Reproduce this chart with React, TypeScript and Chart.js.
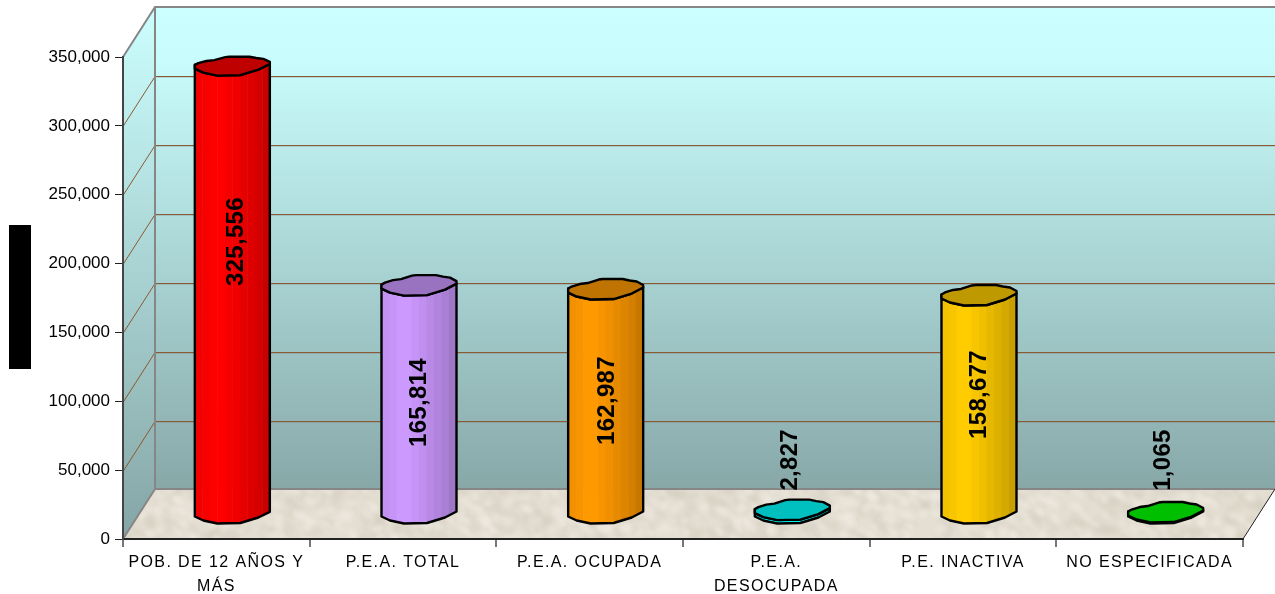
import React, { useEffect, useRef } from "react";
import { Chart, registerables, CategoryScale } from "chart.js";

const categories: (string | string[])[] = [
  ["POB. DE 12 AÑOS Y", "MÁS"],
  "P.E.A. TOTAL",
  "P.E.A. OCUPADA",
  ["P.E.A.", "DESOCUPADA"],
  "P.E. INACTIVA",
  "NO ESPECIFICADA",
];
const values = [325556, 165814, 162987, 2827, 158677, 1065];
const sideColors = ["#ff0000", "#cc99ff", "#ff9900", "#00ffff", "#ffcc00", "#00ff00"];
const capColors = ["#bf0000", "#9973bf", "#bf7300", "#00bfbf", "#bf9900", "#00bf00"];
const yTicks = [0, 50000, 100000, 150000, 200000, 250000, 300000, 350000];

// presentation only
const labelLift = [48, -3, 1, 52, 10, 53];
const labelNudge = [4, 0, 2, -2, 0, -2];
const capLift = [0.85, 1, 1, 1, 1, 1];
const DEPTH_X = 32;
const DEPTH_Y = -50;
const CAP: [number, number][] = [
  [-37.5, -1], [-34, -3], [-26, -5.5], [-18, -6.5], [-7, -10], [-3, -10.5], [17, -10.5], [24, -9], [31, -8], [37.5, -4.5],
  [37.5, -2], [26, 4], [8, 9.5], [-15, 10], [-29, 7], [-37.5, 3],
];
const LOWER_START = 10;
const STRIPS = [0.95, 0.97, 1, 1, 0.97, 0.94, 0.9, 0.87, 0.83, 0.78];

class SpacedCategory extends CategoryScale {
  static id = "spacedCategory";
  static defaults = CategoryScale.defaults;
  drawLabels(area: any) {
    const ctx: any = (this as any).ctx;
    ctx.save();
    ctx.letterSpacing = "1.4px";
    super.drawLabels(area);
    ctx.restore();
  }
}
Chart.register(...registerables, SpacedCategory);

function shade(hex: string, f: number) {
  const n = parseInt(hex.slice(1), 16);
  const c = (s: number) => Math.round(((n >> s) & 255) * f);
  return `rgb(${c(16)},${c(8)},${c(0)})`;
}

function noise(i: number) {
  const s = Math.sin(i * 127.1 + 311.7) * 43758.5453;
  return s - Math.floor(s);
}

function floorTexture() {
  const c = document.createElement("canvas");
  c.width = 1275;
  c.height = 594;
  const g = c.getContext("2d")!;
  g.fillStyle = "#e5dfd3";
  g.fillRect(0, 0, 1275, 594);
  g.filter = "blur(2px)";
  for (let i = 0; i < 1400; i++) {
    const x = 110 + noise(i) * 1180;
    const y = 485 + noise(i + 5000) * 60;
    const light = noise(i + 9000) > 0.5;
    g.fillStyle = light ? "rgba(240,235,226,0.55)" : "rgba(214,207,194,0.5)";
    g.beginPath();
    g.ellipse(x, y, 2 + noise(i + 700) * 6, 1.5 + noise(i + 800) * 3, 0.6, 0, Math.PI * 2);
    g.fill();
  }
  return c;
}

const scenePlugin = {
  id: "scene",
  beforeDraw(chart: any) {
    const { ctx, chartArea: a, scales } = chart;
    const { left: l, right: r, top: t, bottom: b } = a;
    const dx = DEPTH_X, dy = DEPTH_Y;
    ctx.save();
    const grad = ctx.createLinearGradient(0, t + dy, 0, b + dy);
    grad.addColorStop(0, "#ccffff");
    grad.addColorStop(0.12, "#c8fbfb");
    grad.addColorStop(1, "#88a8a8");
    ctx.fillStyle = grad;
    ctx.fillRect(l + dx, t + dy, r - l, b - t);

    const lg = ctx.createLinearGradient(0, t + dy, 0, b);
    lg.addColorStop(0, "#ccffff");
    lg.addColorStop(1, "#85a5a5");
    ctx.fillStyle = lg;
    ctx.beginPath();
    ctx.moveTo(l, t);
    ctx.lineTo(l + dx, t + dy);
    ctx.lineTo(l + dx, b + dy);
    ctx.lineTo(l, b);
    ctx.closePath();
    ctx.fill();

    ctx.save();
    ctx.beginPath();
    ctx.moveTo(l, b);
    ctx.lineTo(r, b);
    ctx.lineTo(r + dx, b + dy);
    ctx.lineTo(l + dx, b + dy);
    ctx.closePath();
    ctx.clip();
    ctx.drawImage(floorTexture(), 0, 0);
    ctx.restore();

    ctx.lineWidth = 1;
    yTicks.slice(1, -1).forEach((v) => {
      const y = Math.ceil(scales.y.getPixelForValue(v)) + 0.5;
      ctx.strokeStyle = "rgba(110,110,110,0.25)";
      ctx.beginPath();
      ctx.moveTo(l + dx, y + dy + 1);
      ctx.lineTo(r + dx, y + dy + 1);
      ctx.stroke();
      ctx.strokeStyle = "#8b5a33";
      ctx.beginPath();
      ctx.moveTo(l, y);
      ctx.lineTo(l + dx, y + dy);
      ctx.lineTo(r + dx, y + dy);
      ctx.stroke();
    });

    ctx.strokeStyle = "#868686";
    ctx.lineWidth = 2;
    ctx.beginPath();
    ctx.moveTo(l, t);
    ctx.lineTo(l + dx, t + dy);
    ctx.lineTo(r + dx, t + dy);
    ctx.moveTo(l + dx, t + dy);
    ctx.lineTo(l + dx, b + dy);
    ctx.lineTo(r + dx, b + dy);
    ctx.moveTo(l + dx, b + dy);
    ctx.lineTo(l, b);
    ctx.stroke();

    ctx.strokeStyle = "#222";
    ctx.lineWidth = 1;
    ctx.beginPath();
    ctx.moveTo(r, b);
    ctx.lineTo(r + dx, b + dy);
    ctx.stroke();
    ctx.restore();
  },
  beforeDatasetDraw(chart: any, args: any) {
    const { ctx } = chart;
    const meta = args.meta;
    ctx.save();
    meta.data.forEach((el: any, i: number) => {
      const cx = el.x + DEPTH_X / 2;
      const top = el.y + DEPTH_Y / 2;
      const base = el.base + DEPTH_Y / 2;
      const s = el.width / 75;
      const px = (p: [number, number]) => cx + p[0] * s;
      const tracePath = (yc: number, pts: [number, number][], first: boolean) => {
        pts.forEach((p, k) => {
          const dy = p[1] < 0 ? p[1] * capLift[i] : p[1];
          if (first && k === 0) ctx.moveTo(px(p), yc + dy);
          else ctx.lineTo(px(p), yc + dy);
        });
      };
      const lower = CAP.slice(LOWER_START);
      const bodyPath = () => {
        ctx.beginPath();
        ctx.moveTo(px(CAP[0]), top + CAP[0][1]);
        tracePath(base, lower.slice().reverse(), false);
        ctx.lineTo(px(lower[0]), top + lower[0][1]);
        tracePath(top, lower, false);
        ctx.closePath();
      };
      ctx.save();
      bodyPath();
      ctx.clip();
      const left = cx - 37.5 * s;
      const w = (75 * s) / STRIPS.length;
      STRIPS.forEach((f, k) => {
        ctx.fillStyle = shade(sideColors[i], f);
        ctx.fillRect(left + k * w, top - 20, w + 0.5, base - top + 40);
      });
      ctx.restore();
      ctx.strokeStyle = "#000";
      ctx.lineWidth = 2.4;
      ctx.lineJoin = "round";
      bodyPath();
      ctx.stroke();
      ctx.beginPath();
      tracePath(top, CAP, true);
      ctx.closePath();
      ctx.fillStyle = capColors[i];
      ctx.fill();
      ctx.stroke();
    });
    // value labels
    ctx.fillStyle = "#000";
    ctx.font = 'bold 24px "Liberation Sans"';
    ctx.letterSpacing = "0.3px";
    ctx.textAlign = "center";
    ctx.textBaseline = "middle";
    meta.data.forEach((el: any, i: number) => {
      const cx = el.x + DEPTH_X / 2 + labelNudge[i];
      const mid = (el.y + el.base + DEPTH_Y) / 2 - labelLift[i];
      ctx.save();
      ctx.translate(cx, mid);
      ctx.rotate(-Math.PI / 2);
      ctx.fillText(values[i].toLocaleString("en-US"), 0, 0);
      ctx.restore();
    });
    ctx.restore();
    return false;
  },
  afterDraw(chart: any) {
    const { ctx } = chart;
    ctx.save();
    ctx.fillStyle = "#000";
    ctx.fillRect(9, 225, 22, 144);
    ctx.restore();
  },
};

export default function App() {
  const ref = useRef<HTMLCanvasElement>(null);
  useEffect(() => {
    const chart = new Chart(ref.current!, {
      type: "bar",
      data: {
        labels: categories as any,
        datasets: [
          {
            data: values,
            backgroundColor: sideColors,
            barPercentage: 75 / 186.67,
            categoryPercentage: 1,
          },
        ],
      },
      options: {
        animation: false,
        responsive: false,
        devicePixelRatio: 1,
        layout: { padding: { top: 57, right: 32, left: 0, bottom: 0 } },
        plugins: { legend: { display: false }, tooltip: { enabled: false } },
        scales: {
          x: {
            type: "spacedCategory" as any,
            offset: true,
            afterFit: (s: any) => { s.height = 55; },
            border: { display: true, color: "#222", width: 2 },
            grid: { drawOnChartArea: false, drawTicks: true, tickLength: 8, color: "#777", lineWidth: 2, offset: true },
            ticks: {
              autoSkip: false,
              maxRotation: 0,
              minRotation: 0,
              padding: 4,
              color: "#000",
              font: { family: '"Liberation Sans"', size: 16, lineHeight: 1.5 },
            },
          },
          y: {
            min: 0,
            max: 350000,
            afterFit: (s: any) => { s.width = 123; },
            border: { display: true, color: "#444", width: 2 },
            grid: { drawOnChartArea: false, drawTicks: true, tickLength: 8, color: "#222", lineWidth: 1 },
            ticks: {
              stepSize: 50000,
              padding: 5,
              color: "#000",
              font: { family: '"Liberation Sans"', size: 17 },
              callback: (v: any) => Number(v).toLocaleString("en-US"),
            },
          },
        },
      },
      plugins: [scenePlugin],
    } as any);
    return () => chart.destroy();
  }, []);
  return (
    <canvas
      ref={ref}
      width={1275}
      height={594}
      style={{ position: "absolute", left: 0, top: 0, display: "block" }}
    />
  );
}
